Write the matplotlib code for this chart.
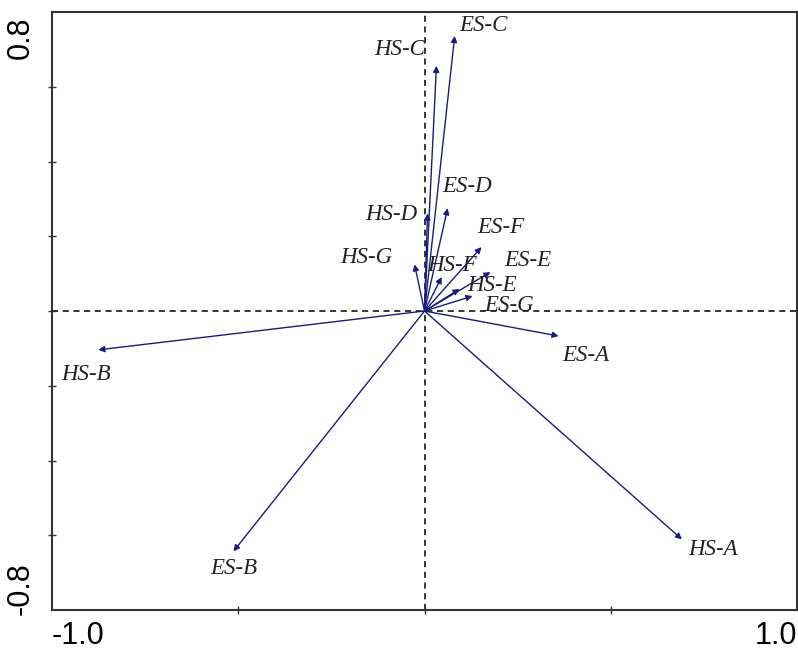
import numpy as np
import matplotlib.pyplot as plt
import matplotlib.transforms as mtransforms

# nombres de los vectores y coordenadas de las puntas
names = ['HS-A', 'HS-B', 'HS-C', 'HS-D', 'HS-E', 'HS-F', 'HS-G',
         'ES-A', 'ES-B', 'ES-C', 'ES-D', 'ES-E', 'ES-F', 'ES-G']
tip_x = [0.691, -0.876, 0.032, 0.008, 0.094, 0.046, -0.027,
         0.360, -0.513, 0.081, 0.062, 0.177, 0.153, 0.129]
tip_y = [-0.611, -0.104, 0.656, 0.261, 0.059, 0.091, 0.125,
         -0.067, -0.643, 0.736, 0.275, 0.104, 0.171, 0.040]

# posicion de las etiquetas (centro del texto)
lab_x = [0.774, -0.909, -0.067, -0.089, 0.180, 0.075, -0.156,
         0.433, -0.513, 0.159, 0.113, 0.277, 0.204, 0.226]
lab_y = [-0.637, -0.171, 0.699, 0.259, 0.069, 0.123, 0.144,
         -0.120, -0.688, 0.763, 0.333, 0.136, 0.224, 0.016]

xlim = [-1.0, 1.0]
ylim = [-0.8, 0.8]
xtick_labels = ['-1.0', '1.0']
ytick_labels = ['-0.8', '0.8']
arrow_color = '#1c1c78'

fig = plt.figure(figsize=(7.98, 6.52), dpi=100)
ax = fig.add_axes([0.0652, 0.0644, 0.9336, 0.9172])

# lineas de referencia
ax.axhline(0, color='black', lw=1.1, ls=(0, (4, 3)), zorder=1)
ax.axvline(0, color='black', lw=1.1, ls=(0, (4, 3)), zorder=1)

# flechas desde el origen
for i in range(len(names)):
    ax.annotate('', xy=(tip_x[i], tip_y[i]), xytext=(0, 0),
                arrowprops=dict(arrowstyle='-|>', color=arrow_color, lw=1.0,
                                mutation_scale=9, shrinkA=0, shrinkB=0),
                zorder=2)
    ax.text(lab_x[i], lab_y[i], names[i], ha='center', va='center',
            fontsize=16.5, style='italic', family='Liberation Serif',
            color='#222222', zorder=3)

ax.set_xlim(xlim)
ax.set_ylim(ylim)

# ticks: solo etiquetas en los extremos, marcas menores intermedias
ax.set_xticks(xlim)
ax.set_xticklabels(xtick_labels)
ax.set_yticks(ylim)
ax.set_yticklabels(ytick_labels, rotation=90)
ax.set_xticks([-0.5, 0.0, 0.5], minor=True)
ax.set_yticks(np.arange(-0.6, 0.61, 0.2), minor=True)
ax.tick_params(which='major', length=0, labelsize=22, pad=8)
ax.tick_params(axis='y', which='major', pad=12)
ax.tick_params(which='minor', direction='inout', length=6, width=1.0, color='#333333')

for lab in ax.get_xticklabels():
    lab.set_family('Liberation Sans')
xl = ax.get_xticklabels()
xl[0].set_ha('left')
xl[1].set_ha('right')
yl = ax.get_yticklabels()
for lab in yl:
    lab.set_family('Liberation Sans')
yl[0].set_va('bottom')
yl[1].set_va('top')
# pequeno desplazamiento hacia abajo de las etiquetas del eje y
shift = mtransforms.ScaledTranslation(0, -5 / 100, fig.dpi_scale_trans)
for t in ax.yaxis.get_major_ticks():
    t.label1.set_transform(t.label1.get_transform() + shift)

for side in ['top', 'right', 'left', 'bottom']:
    ax.spines[side].set_linewidth(1.5)
    ax.spines[side].set_color('#333333')

fig.savefig('out.png', dpi=100)
